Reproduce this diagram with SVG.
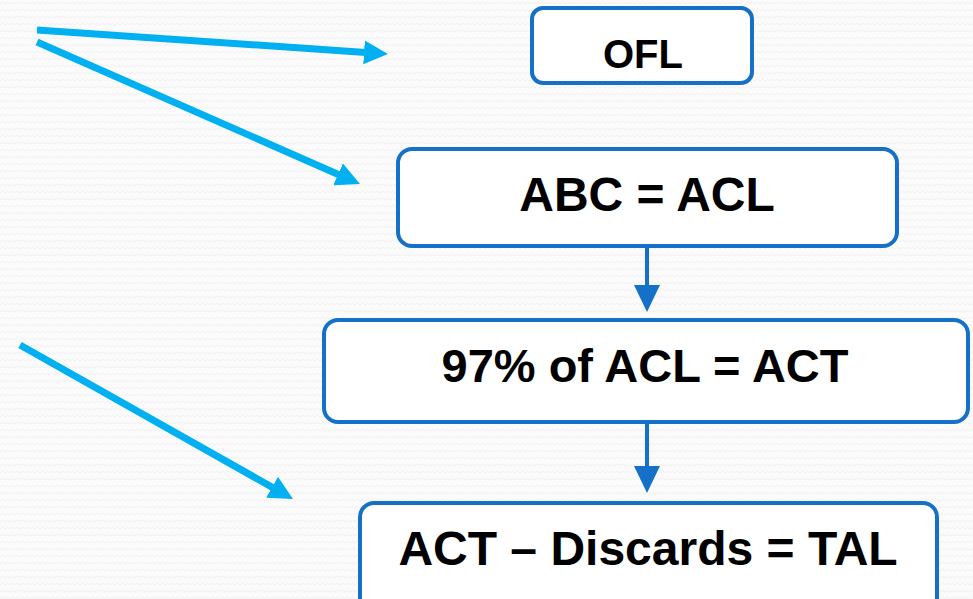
<svg xmlns="http://www.w3.org/2000/svg" width="973" height="599" viewBox="0 0 973 599">
<style>
.box{fill:#ffffff;stroke:#1570c8;stroke-width:4}
.lbl{font-family:"Liberation Sans",Arial,sans-serif;font-weight:bold;fill:#000;text-anchor:middle}
.lb{stroke:#00b0f0;stroke-width:7;fill:none}
.db{stroke:#1570c8;stroke-width:4;fill:none}
</style>
<defs>
<pattern id="bg" width="10" height="7" patternUnits="userSpaceOnUse">
<rect width="10" height="7" fill="#fbfbfb"/>
<path d="M0,4 L2.5,2 L5,4 L7.5,2 L10,4" stroke="#f0f0f0" stroke-width="1" fill="none"/>
</pattern>
<marker id="ah" markerUnits="userSpaceOnUse" markerWidth="24" markerHeight="24" viewBox="0 0 24 24" refX="9" refY="12" orient="auto">
<path d="M0,0 L24,12 L0,24 z" fill="#00b0f0"/>
</marker>
</defs>
<rect width="973" height="599" fill="url(#bg)"/>
<g id="connectors">
<line class="lb" x1="37" y1="30" x2="373" y2="53" marker-end="url(#ah)"/>
<line class="lb" x1="37" y1="42" x2="346.3" y2="178" marker-end="url(#ah)"/>
<line class="lb" x1="20" y1="345" x2="279.9" y2="491.6" marker-end="url(#ah)"/>
<line class="db" x1="647" y1="247" x2="647" y2="289"/>
<path d="M634,285 L660,285 L647,312 z" fill="#1570c8"/>
<line class="db" x1="647" y1="423" x2="647" y2="470"/>
<path d="M634,466 L660,466 L647,493 z" fill="#1570c8"/>
</g>
<g id="ofl">
<rect class="box" x="532" y="8" width="220" height="75" rx="11"/>
<text class="lbl" x="643" y="68" font-size="40">OFL</text>
</g>
<g id="abc">
<rect class="box" x="398" y="149" width="499" height="97" rx="14"/>
<text class="lbl" x="647" y="211" font-size="48">ABC = ACL</text>
</g>
<g id="act">
<rect class="box" x="324" y="320" width="644" height="102" rx="14"/>
<text class="lbl" x="645" y="382" font-size="47">97% of ACL = ACT</text>
</g>
<g id="tal">
<rect class="box" x="360" y="503" width="577" height="110" rx="14"/>
<text class="lbl" x="648" y="565" font-size="48">ACT – Discards = TAL</text>
</g>
</svg>
